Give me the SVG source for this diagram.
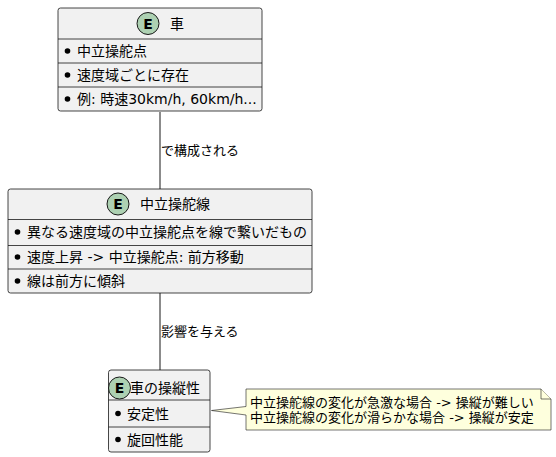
<svg xmlns="http://www.w3.org/2000/svg" width="556" height="457" viewBox="0 0 556 457">
<style>
.box{fill:#F1F1F1;stroke:#181818;stroke-width:0.8}
.sep{stroke:#181818;stroke-width:0.8}
.t{font-family:"DejaVu Sans","Noto Sans CJK JP",sans-serif;font-size:14px;fill:#000}
.a{font-family:"DejaVu Sans","Noto Sans CJK JP",sans-serif;font-size:14px;fill:#000}
.lbl{font-family:"DejaVu Sans","Noto Sans CJK JP",sans-serif;font-size:13px;fill:#000}
.ci{fill:#ADD1B2;stroke:#181818;stroke-width:1}
.E{font-family:"DejaVu Sans",sans-serif;font-size:14px;font-weight:bold;fill:#000}
.dot{fill:#000}
.edge{stroke:#181818;stroke-width:1;fill:none}
.note{fill:#FEFFDD;stroke:#181818;stroke-width:0.6}
</style>
<g id="connectors">
<line class="edge" x1="160" y1="112" x2="160" y2="189"/>
<text class="lbl" x="161" y="155">で構成される</text>
<line class="edge" x1="160" y1="293" x2="160" y2="370"/>
<text class="lbl" x="161" y="336">影響を与える</text>
</g>
<g id="car">
<rect class="box" x="58" y="8" width="204" height="103" rx="2.5"/>
<line class="sep" x1="58" y1="39" x2="262" y2="39"/>
<line class="sep" x1="58" y1="63" x2="262" y2="63"/>
<line class="sep" x1="58" y1="87" x2="262" y2="87"/>
<circle class="ci" cx="148" cy="23.5" r="11"/>
<text class="E" x="148" y="28.5" text-anchor="middle">E</text>
<text class="t" x="170" y="28.5">車</text>
<circle class="dot" cx="67.5" cy="51" r="2.8"/>
<text class="a" x="77" y="56">中立操舵点</text>
<circle class="dot" cx="67.5" cy="75" r="2.8"/>
<text class="a" x="77" y="80">速度域ごとに存在</text>
<circle class="dot" cx="67.5" cy="99" r="2.8"/>
<text class="a" x="77" y="104">例: 時速30km/h, 60km/h...</text>
</g>
<g id="line">
<rect class="box" x="8" y="189" width="304" height="104" rx="2.5"/>
<line class="sep" x1="8" y1="219.5" x2="312" y2="219.5"/>
<line class="sep" x1="8" y1="245.5" x2="312" y2="245.5"/>
<line class="sep" x1="8" y1="269" x2="312" y2="269"/>
<circle class="ci" cx="118" cy="204" r="11"/>
<text class="E" x="118" y="209" text-anchor="middle">E</text>
<text class="t" x="140" y="209">中立操舵線</text>
<circle class="dot" cx="17.5" cy="232" r="2.8"/>
<text class="a" x="27" y="237">異なる速度域の中立操舵点を線で繋いだもの</text>
<circle class="dot" cx="17.5" cy="257" r="2.8"/>
<text class="a" x="27" y="262">速度上昇 -&gt; 中立操舵点: 前方移動</text>
<circle class="dot" cx="17.5" cy="281" r="2.8"/>
<text class="a" x="27" y="286">線は前方に傾斜</text>
</g>
<g id="handling">
<rect class="box" x="108.5" y="370" width="101.5" height="82" rx="2.5"/>
<line class="sep" x1="108.5" y1="400" x2="210" y2="400"/>
<line class="sep" x1="108.5" y1="427" x2="210" y2="427"/>
<circle class="ci" cx="119.5" cy="388" r="11"/>
<text class="E" x="119.5" y="393" text-anchor="middle">E</text>
<text class="t" x="130" y="393">車の操縦性</text>
<circle class="dot" cx="118" cy="413.5" r="2.8"/>
<text class="a" x="127" y="418.5">安定性</text>
<circle class="dot" cx="118" cy="439.5" r="2.8"/>
<text class="a" x="127" y="444.5">旋回性能</text>
</g>
<g id="note">
<path class="note" d="M246,389 L541,389 L551,399 L551,430 L246,430 L246,415 L211.5,410.5 L246,406.5 Z"/>
<path class="note" d="M541,389 L541,399 L551,399"/>
<text class="lbl" x="250" y="406.5">中立操舵線の変化が急激な場合 -&gt; 操縦が難しい</text>
<text class="lbl" x="250" y="421.5">中立操舵線の変化が滑らかな場合 -&gt; 操縦が安定</text>
</g>
</svg>
